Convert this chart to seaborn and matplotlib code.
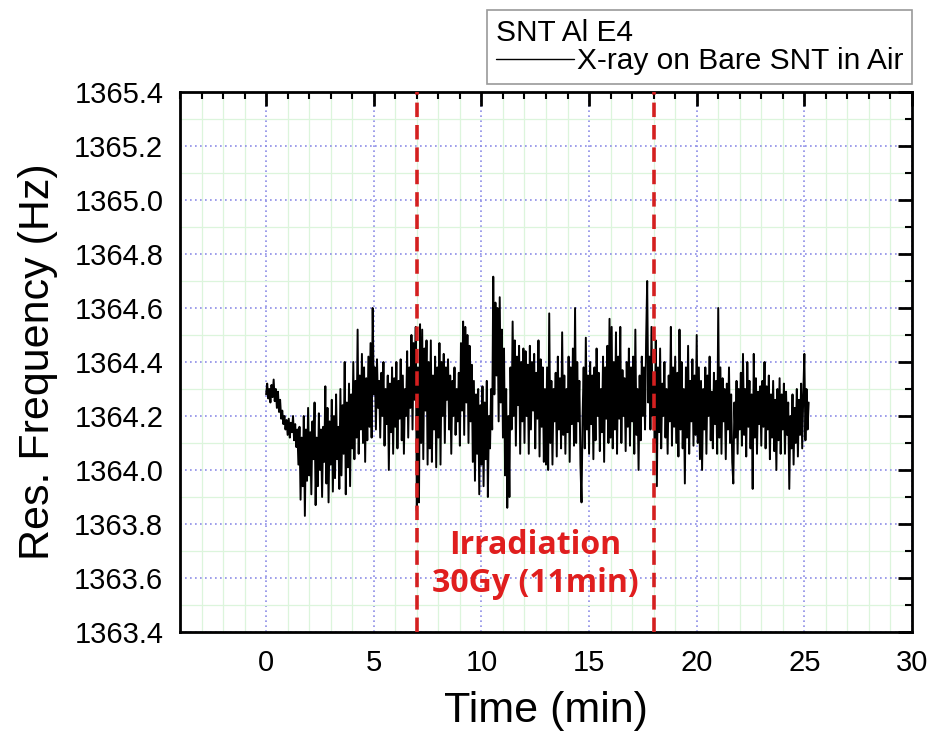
import numpy as np
import pandas as pd
import matplotlib
matplotlib.use("Agg")
import matplotlib.pyplot as plt
from matplotlib.lines import Line2D
from matplotlib.ticker import MultipleLocator, FormatStrFormatter
import seaborn as sns

# Resonance frequency of the SNT sensor, in mHz above 1364.000 Hz,
# one sample every 0.05 min (20 samples per minute row).
BASE_HZ = 1364.0
SAMPLE_STEP_MIN = 0.05
offsets_mhz = [
    # 0 min
    280, 320, 265, 300, 250, 315, 270, 335, 255, 300, 230, 290, 215, 260, 190, 220, 170, 200, 150, 185,
    # 1 min
    130, 190, 120, 175, 140, 200, 110, 170, 85, 150, 20, 160, -110, 120, -60, 200, -170, 150, -40, 230,
    # 2 min
    -20, 140, -90, 180, 40, 250, -130, 120, -60, 210, 0, 150, -100, 160, 30, 310, -50, 230, -120, 180,
    # 3 min
    20, 260, -80, 200, -30, 280, 40, 160, -70, 300, -20, 240, 60, 400, -90, 250, 10, 320, -60, 280,
    # 4 min
    80, 400, 40, 330, 120, 520, 60, 350, 150, 430, 100, 380, 30, 340, 110, 420, 160, 470, 120, 600,
    # 5 min
    280, 380, 150, 410, 230, 330, 120, 360, 200, 400, 90, 300, 170, 350, 0, 320, 140, 380, 60, 340,
    # 6 min
    160, 400, 80, 330, 190, 410, 110, 350, 60, 300, 200, 440, 120, 380, 230, 500, 150, 470, 260, 530,
    # 7 min
    -150, 380, -120, 540, 100, 520, 40, 450, 220, 480, 20, 400, 80, 480, 30, 350, 150, 420, 10, 380,
    # 8 min
    120, 470, 20, 400, 200, 430, 100, 380, 260, 410, 150, 350, 60, 330, 200, 380, 130, 300, 180, 360,
    # 9 min
    90, 470, 220, 550, 130, 530, 250, 500, 100, 460, 180, 390, 30, 330, -40, 280, 60, 300, -90, 240,
    # 10 min
    20, 310, -60, 250, 40, 330, -100, 200, 80, 300, 150, 716, 280, 620, 350, 600, 180, 640, 250, 520,
    # 11 min
    120, 450, -20, 300, -140, 200, -100, 380, 150, 550, 200, 480, 90, 420, 240, 460, 60, 400, 180, 450,
    # 12 min
    100, 440, 200, 390, 60, 460, 150, 400, 220, 430, 80, 360, 190, 480, 50, 410, 160, 380, 30, 300,
    # 13 min
    20, 380, 0, 580, 100, 330, 20, 300, 180, 360, 50, 420, 150, 340, 80, 510, 130, 350, 60, 300,
    # 14 min
    140, 420, 30, 380, 170, 450, 90, 600, 100, 400, 180, 330, 20, -120, 200, 380, 80, 490, 150, 350,
    # 15 min
    60, 400, 170, 350, 40, 380, 110, 450, 200, 360, 70, 300, 140, 420, 30, 380, 190, 460, 100, 560,
    # 16 min
    120, 530, 80, 400, 150, 510, 60, 420, 190, 530, 100, 370, 200, 340, 70, 400, 160, 450, 90, 380,
    # 17 min
    180, 420, 60, 520, 130, 300, 0, 350, 110, 420, 200, 380, 150, 480, 700, 250, 420, 150, 530, 200,
    # 18 min
    360, 100, 480, -60, 380, 140, 450, 80, 320, 200, 400, 120, 300, 60, 350, 180, 530, 90, 380, 160,
    # 19 min
    420, 100, 360, 50, 520, 150, 400, 80, 300, -50, 380, 120, 460, 60, 330, 180, 410, 90, 350, 130,
    # 20 min
    500, 100, 380, 40, 330, 0, 300, 150, 380, 60, 350, 200, 420, 110, 290, 80, 360, 170, 330, 60,
    # 21 min
    600, 120, 380, 60, 340, 180, 300, 40, 320, 150, 380, 100, 280, 30, -50, 250, 120, 330, 60, 300,
    # 22 min
    150, 360, 90, 430, 130, 300, 50, 400, 160, 330, 80, 280, -70, 430, 120, 340, 60, 290, 170, 310,
    # 23 min
    90, 330, 160, 400, 80, 310, 150, 350, 40, 280, 120, 330, 70, 260, 0, 300, 110, 340, 60, 280,
    # 24 min
    150, 320, 60, 290, 130, 250, -70, 200, 80, 280, 20, 230, 100, 300, 50, 260, 130, 320, 80, 280,
    # 25 min
    430, 110, 300, 150, 250,
]

x_ticks = [0, 5, 10, 15, 20, 25, 30]
y_ticks = [1363.4, 1363.6, 1363.8, 1364.0, 1364.2, 1364.4, 1364.6, 1364.8, 1365.0, 1365.2, 1365.4]
irradiation_window = [7, 18]
legend_title = "SNT Al E4"
series_label = "X-ray on Bare SNT in Air"
annotation_lines = ["Irradiation", "30Gy (11min)"]

df = pd.DataFrame({
    "time": np.arange(len(offsets_mhz)) * SAMPLE_STEP_MIN,
    "freq": BASE_HZ + np.array(offsets_mhz) / 1000.0,
})

sns.set_style("white")
plt.rcParams["font.family"] = ["Liberation Sans", "DejaVu Sans"]
plt.rcParams["text.color"] = "black"
plt.rcParams["axes.labelcolor"] = "black"

fig = plt.figure(figsize=(9.32, 7.31), dpi=100)
ax = fig.add_axes([180 / 932, 1 - 632 / 731, (912 - 180) / 932, (632 - 92) / 731])

# grid: light green minor lines under blue dotted major lines
ax.set_axisbelow(True)
ax.xaxis.set_minor_locator(MultipleLocator(1))
ax.yaxis.set_minor_locator(MultipleLocator(0.1))
ax.grid(which="minor", color="#dcf5dc", linestyle="-", linewidth=0.9)
ax.grid(which="major", color="#8c8ce6", linestyle=(0, (1, 2)), linewidth=1.2)

sns.lineplot(data=df, x="time", y="freq", ax=ax, color="black",
             linewidth=1.4, estimator=None, sort=False, legend=False)

for xv in irradiation_window:
    ax.axvline(xv, color="#d42020", linewidth=2.6, linestyle=(0, (4, 2.2)), zorder=3)

for yv, line in zip([1363.722, 1363.581], annotation_lines):
    ax.text(12.5, yv, line, color="#e01e1e", fontsize=23,
            fontweight="bold", family="Open Sans", ha="center", va="center")

ax.set_xlim(-4, 30)
ax.set_ylim(1363.4, 1365.4)
ax.set_xticks(x_ticks)
ax.set_yticks(y_ticks)
ax.yaxis.set_major_formatter(FormatStrFormatter("%.1f"))

ax.tick_params(which="both", direction="in", top=True, right=True,
               colors="black", labelcolor="black")
ax.tick_params(which="major", length=10, width=2, labelsize=21, pad=12)
ax.tick_params(which="minor", length=5, width=1.5)
for sp in ax.spines.values():
    sp.set_linewidth(2)
    sp.set_color("black")

ax.set_xlabel("Time (min)", fontsize=31, labelpad=10, color="black")
ax.set_ylabel("Res. Frequency (Hz)", fontsize=31, labelpad=12, color="black")

handle = Line2D([], [], color="black", linewidth=1.0)
leg = fig.legend([handle], [series_label], title=legend_title,
                 loc="upper right", bbox_to_anchor=(912 / 932, 1 - 10 / 731),
                 fontsize=21.5, title_fontsize=21.5, frameon=True, fancybox=False,
                 edgecolor="#808080", handlelength=2.6, handletextpad=0.1,
                 borderpad=0.3, labelspacing=0.0, borderaxespad=0.0)
leg._legend_box.align = "left"
leg.get_frame().set_linewidth(1.2)
for t in leg.get_texts():
    t.set_color("black")
leg.get_title().set_color("black")

fig.savefig("out.png", dpi=100, facecolor="white")
